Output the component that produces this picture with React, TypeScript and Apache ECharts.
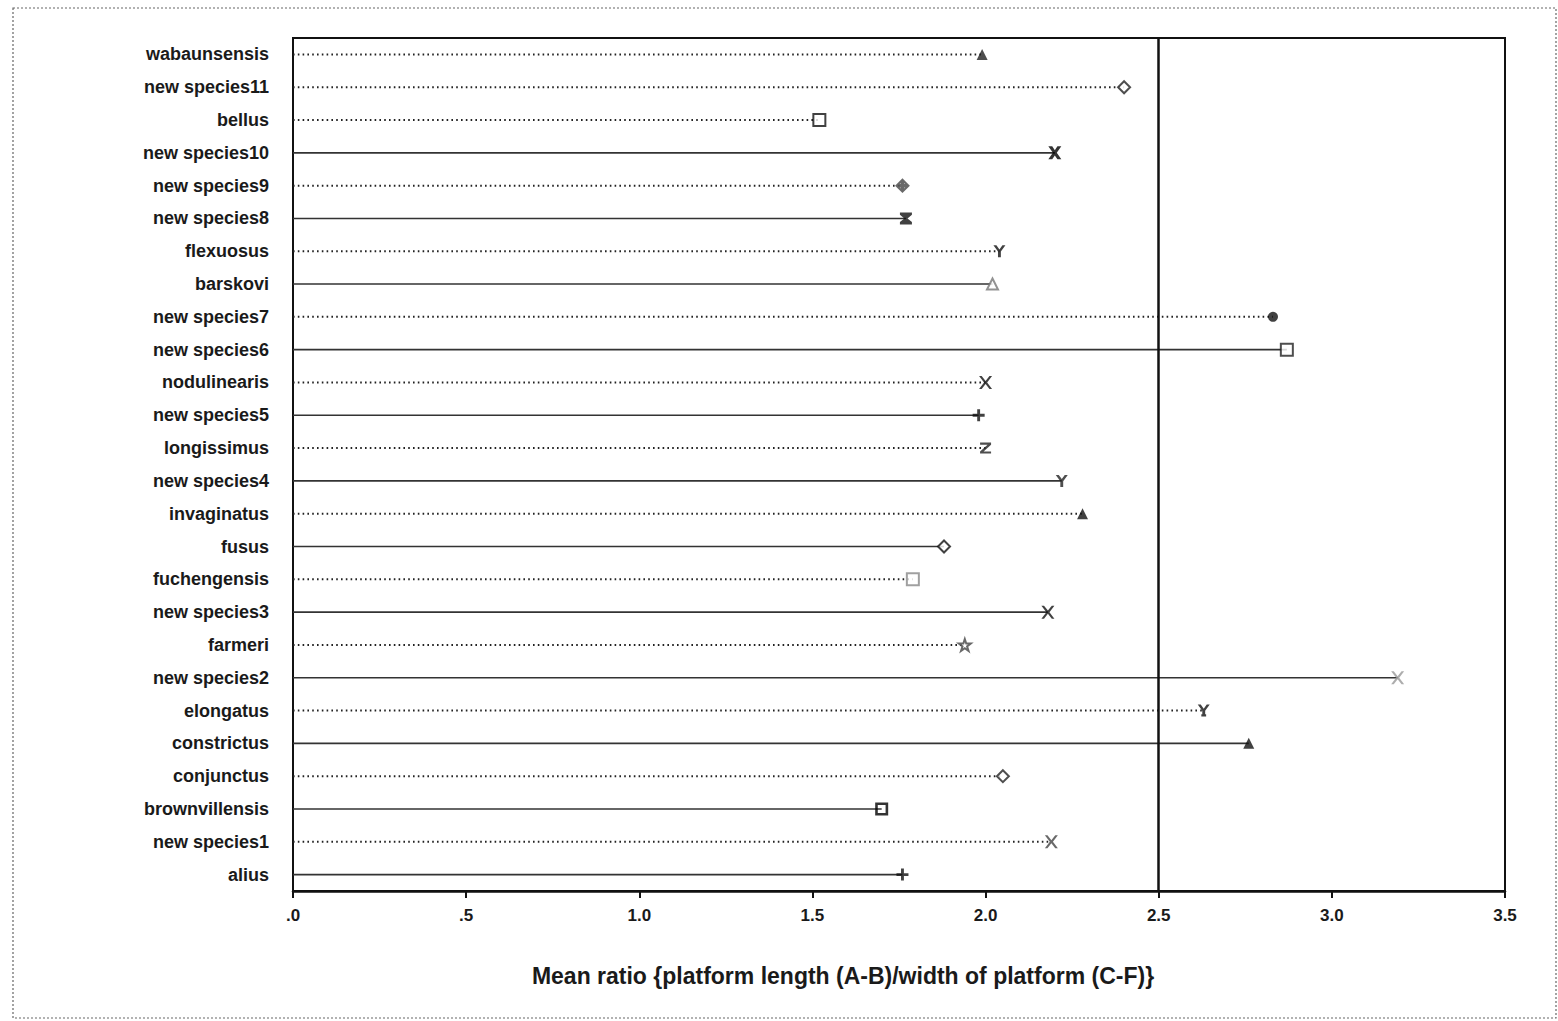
import React, { useEffect, useRef } from "react";
import * as echarts from "echarts";

// Species, listed top to bottom
const species = [
  "wabaunsensis", "new species11", "bellus", "new species10", "new species9",
  "new species8", "flexuosus", "barskovi", "new species7", "new species6",
  "nodulinearis", "new species5", "longissimus", "new species4", "invaginatus",
  "fusus", "fuchengensis", "new species3", "farmeri", "new species2",
  "elongatus", "constrictus", "conjunctus", "brownvillensis", "new species1", "alius",
];

// Mean ratio for each species
const meanRatio = [
  1.99, 2.40, 1.52, 2.20, 1.76,
  1.77, 2.04, 2.02, 2.83, 2.87,
  2.00, 1.98, 2.00, 2.22, 2.28,
  1.88, 1.79, 2.18, 1.94, 3.19,
  2.63, 2.76, 2.05, 1.70, 2.19, 1.76,
];

// Stem style: 1 = dotted, 0 = solid
const dottedStem = [
  1, 1, 1, 0, 1,
  0, 1, 0, 1, 0,
  1, 0, 1, 0, 1,
  0, 1, 0, 1, 0,
  1, 0, 1, 0, 1, 0,
];

// Marker kind per species
const markerKind = [
  "tri", "diamond", "square", "xbold", "diamondPlus",
  "hourglass", "y", "triHollow", "dot", "square",
  "x", "plus", "z", "y", "tri",
  "diamond", "square", "x", "star", "x",
  "yInv", "tri", "diamond", "squareBold", "x", "plus",
];

// Marker shade per species (light print for a few)
const markerShade = [
  "#222", "#222", "#111", "#000", "#444",
  "#111", "#111", "#777", "#111", "#222",
  "#111", "#111", "#222", "#222", "#111",
  "#111", "#888", "#111", "#444", "#999",
  "#111", "#111", "#222", "#000", "#444", "#111",
];

const xTicks = [0, 0.5, 1, 1.5, 2, 2.5, 3, 3.5];
const referenceRatio = 2.5;
const axisTitle = "Mean ratio {platform length (A-B)/width of platform (C-F)}";

const shapes: Record<string, { symbol: string; hollow?: boolean; size?: number }> = {
  tri: { symbol: "triangle", size: 11 },
  triHollow: { symbol: "triangle", hollow: true, size: 11 },
  diamond: { symbol: "diamond", hollow: true, size: 12 },
  diamondPlus: { symbol: "path://M5,0 L10,5 L5,10 L0,5 Z M5,1.5 V8.5 M1.5,5 H8.5 M4.3,1.8 H5.7 V8.2 H4.3 Z M1.8,4.3 V5.7 H8.2 V4.3 Z", hollow: true, size: 12 },
  square: { symbol: "rect", hollow: true, size: 12 },
  squareBold: { symbol: "path://M0,0 H10 V10 H0 Z M2,2 V8 H8 V2 Z", size: 13 },
  xbold: { symbol: "path://M0,0 H3 L5,3 L7,0 H10 L6.5,5 L10,10 H7 L5,7 L3,10 H0 L3.5,5 Z", size: 13 },
  x: { symbol: "path://M0,0 H2 L5,3.8 L8,0 H10 L6.2,5 L10,10 H8 L5,6.2 L2,10 H0 L3.8,5 Z", size: 13 },
  y: { symbol: "path://M0,0 H2.5 L5,3.5 L7.5,0 H10 L6.2,5.2 V10 H3.8 V5.2 Z", size: 12 },
  yInv: { symbol: "path://M0,0 H2.5 L5,3.5 L7.5,0 H10 L6.2,5.2 V10 H3.8 V5.2 Z M3,8 H7 V10 H3 Z", size: 12 },
  hourglass: { symbol: "path://M0,0 H10 V2 L6.3,5 L10,8 V10 H0 V8 L3.7,5 L0,2 Z", size: 12 },
  dot: { symbol: "circle", size: 10 },
  plus: { symbol: "path://M3.8,0 H6.2 V3.8 H10 V6.2 H6.2 V10 H3.8 V6.2 H0 V3.8 H3.8 Z", size: 12 },
  z: { symbol: "path://M0,0 H10 V2 L3.2,8 H10 V10 H0 V8 L6.8,2 H0 Z", size: 11 },
  star: { symbol: "path://M5,0 L6.2,3.6 L10,3.6 L6.9,5.9 L8.1,9.5 L5,7.3 L1.9,9.5 L3.1,5.9 L0,3.6 L3.8,3.6 Z", hollow: true, size: 12 },
};

const FONT = "'Liberation Sans', Arial, sans-serif";

export default function App() {
  const ref = useRef<HTMLDivElement>(null);

  useEffect(() => {
    if (!ref.current) return;
    const chart = echarts.init(ref.current, null, { renderer: "svg" });

    const stemData = meanRatio.map((v, i) => [v, i, dottedStem[i]]);
    const markerData = meanRatio.map((v, i) => {
      const s = shapes[markerKind[i]];
      const shade = markerShade[i];
      return {
        value: [v, i],
        symbol: s.symbol,
        symbolSize: s.size ?? 12,
        itemStyle: s.hollow
          ? { color: "#fff", borderColor: shade, borderWidth: 2 }
          : { color: shade, borderWidth: 0 },
      };
    });

    chart.setOption({
      animation: false,
      backgroundColor: "#fff",
      textStyle: { fontFamily: FONT },
      grid: {
        left: 293,
        top: 38,
        width: 1212,
        height: 853,
        show: true,
        borderColor: "#111",
        borderWidth: 2,
        backgroundColor: "transparent",
      },
      xAxis: {
        type: "value",
        min: xTicks[0],
        max: xTicks[xTicks.length - 1],
        interval: 0.5,
        axisLine: { show: true, lineStyle: { color: "#111", width: 2.5 } },
        axisTick: { show: true, length: 7, lineStyle: { color: "#111", width: 2 } },
        splitLine: { show: false },
        axisLabel: {
          color: "#1a1a1a",
          fontSize: 17,
          fontWeight: "bold",
          margin: 16,
          formatter: (v: number) => {
            const s = v.toFixed(1);
            return s.startsWith("0") ? s.slice(1) : s;
          },
        },
      },
      yAxis: {
        type: "category",
        data: species,
        inverse: true,
        axisLine: { show: true, lineStyle: { color: "#111", width: 2 } },
        axisTick: { show: false },
        splitLine: { show: false },
        axisLabel: { color: "#1a1a1a", fontSize: 18, fontWeight: "bold", margin: 24 },
      },
      graphic: [
        {
          type: "rect",
          shape: { x: 13, y: 8, width: 1543, height: 1010 },
          style: { fill: "none", stroke: "#666", lineWidth: 1.2, lineDash: [2, 2] },
          silent: true,
        },
        {
          type: "text",
          x: 843,
          y: 976,
          style: {
            text: axisTitle,
            fill: "#1a1a1a",
            font: `bold 23px ${FONT}`,
            align: "center",
            verticalAlign: "middle",
          },
        },
      ],
      series: [
        {
          type: "custom",
          coordinateSystem: "cartesian2d",
          encode: { x: 0, y: 1 },
          data: stemData,
          renderItem: (params: any, api: any) => {
            const v = api.value(0);
            const idx = api.value(1);
            const dotted = api.value(2) === 1;
            const a = api.coord([0, idx]);
            const b = api.coord([v, idx]);
            return {
              type: "line",
              shape: { x1: a[0], y1: a[1], x2: b[0], y2: b[1] },
              style: dotted
                ? { stroke: "#222", lineWidth: 2, lineDash: [1.6, 3.2] }
                : { stroke: "#333", lineWidth: 1.6 },
            };
          },
          z: 2,
        },
        {
          type: "scatter",
          data: markerData,
          z: 4,
          markLine: {
            silent: true,
            symbol: ["none", "none"],
            label: { show: false },
            lineStyle: { color: "#111", width: 2.5, type: "solid" },
            data: [{ xAxis: referenceRatio }],
          },
        },
      ],
    });

    return () => chart.dispose();
  }, []);

  return (
    <div
      ref={ref}
      style={{ position: "fixed", left: 0, top: 0, width: 1558, height: 1021, background: "#fff" }}
    />
  );
}
